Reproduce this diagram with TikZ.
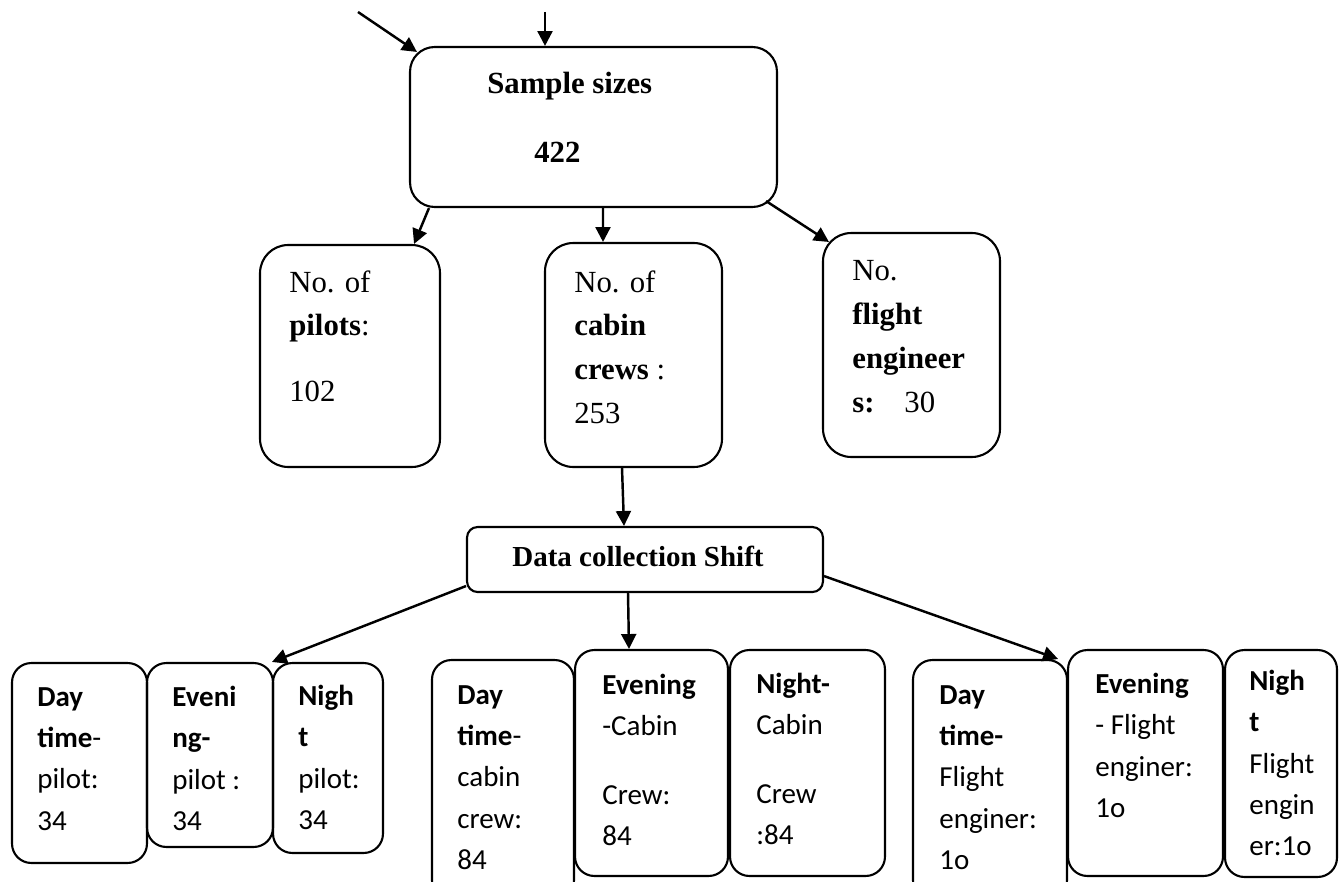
\documentclass[tikz,border=0pt]{standalone}
\usepackage{fontspec}
\setmainfont{Liberation Serif}
\newfontfamily\calibri{Carlito}
\usetikzlibrary{arrows.meta}

\begin{document}
\begin{tikzpicture}[
    x=0.02cm, y=-0.02cm,
    >={Triangle[length=8.5pt,width=8.5pt]},
    arr/.style={->, line width=1.4pt},
    box/.style={draw, line width=1.2pt, rounded corners=11pt, inner sep=0pt},
    bigbox/.style={box, rounded corners=16pt},
    uppertxt/.style={font=\fontsize{17.5}{25}\selectfont, align=left, inner sep=0pt, anchor=north west},
    lowtxt/.style={font=\calibri\fontsize{16.5}{23.5}\selectfont, align=left, inner sep=0pt, anchor=north west},
    hd/.style={font=\fontsize{17.5}{25}\selectfont\bfseries, inner sep=0pt, anchor=base west}
  ]
  \clip (0,0) rectangle (1342,882);

  % sample
  \node[bigbox, rounded corners=14pt, minimum width=7.34cm, minimum height=3.2cm] (ss) at (593.5,127) {};
  \node[hd] (sst) at (487,93) {Sample sizes};
  \node[hd] (ssn) at (534,162) {422};
  \coordinate (in1) at (358,12);
  \coordinate (in2) at (545,12);
  \draw[arr] (in1) -- ([shift={(8,6)}]ss.north west);
  \draw[arr] (in2) -- (in2 |- ss.north);

  % crew groups
  \node[bigbox, minimum width=3.6cm, minimum height=4.44cm] (pil) at (350,356) {};
  \node[bigbox, minimum width=3.54cm, minimum height=4.48cm] (cab) at (633.5,355) {};
  \node[bigbox, minimum width=3.54cm, minimum height=4.48cm] (flt) at (911.5,345) {};
  \node[uppertxt] (pilt) at (289,270) {No. of\\\textbf{pilots}:\\[12.5pt]102};
  \node[uppertxt] (cabt) at (574,270) {No. of\\\textbf{cabin}\\\textbf{crews} :\\253};
  \node[uppertxt] (fltt) at (852,260) {No.\\\textbf{flight}\\\textbf{engineer}\\\textbf{s:}\hspace{17pt}30};
  \draw[arr] ([shift={(20,0)}]ss.south west) -- ([shift={(-27,0)}]pil.north east);
  \draw[arr] ([shift={(9.5,0)}]ss.south) -- ([shift={(-30.5,0)}]cab.north);
  \draw[arr] ([shift={(-12,-7)}]ss.south east) -- ([shift={(7,10)}]flt.north west);

  % shift
  \node[box, rounded corners=6pt, minimum width=7.12cm, minimum height=1.3cm] (dcs) at (645,559.5) {};
  \node[hd, font=\fontsize{16.5}{20}\selectfont\bfseries] (dcst) at (512,566) {Data collection Shift};
  \draw[arr] ([shift={(-11.5,0)}]cab.south) -- ([shift={(-21,0)}]dcs.north);

  % pilots by shift
  \node[box, minimum width=2.7cm, minimum height=4.0cm] (dp) at (79.5,763) {};
  \node[box, minimum width=2.52cm, minimum height=3.68cm] (ep) at (210,755) {};
  \node[box, minimum width=2.2cm, minimum height=3.8cm] (np) at (328,758) {};
  \node[lowtxt] (dpt) at (37,687) {\textbf{Day}\\\textbf{time}-\\pilot:\\34};
  \node[lowtxt] (ept) at (172,686) {\textbf{Eveni}\\\textbf{ng-}\\pilot :\\34};
  \node[lowtxt] (npt) at (298,685) {\textbf{Nigh}\\\textbf{t}\\pilot:\\34};

  % cabin crew by shift
  \node[box, minimum width=2.84cm, minimum height=4.8cm] (dc) at (503,780) {};
  \node[box, minimum width=3.06cm, minimum height=4.52cm] (ec) at (651.5,763) {};
  \node[box, minimum width=3.1cm, minimum height=4.52cm] (nc) at (807.5,763) {};
  \node[lowtxt] (dct) at (457,685) {\textbf{Day}\\\textbf{time}-\\cabin\\crew:\\84};
  \node[lowtxt] (ect) at (602,674) {\textbf{Evening}\\-Cabin\\[15.5pt]Crew:\\84};
  \node[lowtxt] (nct) at (756,673) {\textbf{Night-}\\Cabin\\[15.5pt]Crew\\:84};

  % flight engineers by shift
  \node[box, minimum width=3.08cm, minimum height=4.8cm] (df) at (990,780) {};
  \node[box, minimum width=3.1cm, minimum height=4.52cm] (ef) at (1145.5,763) {};
  \node[box, minimum width=2.24cm, minimum height=4.54cm] (nf) at (1281,763.5) {};
  \node[lowtxt] (dft) at (939,685) {\textbf{Day}\\\textbf{time-}\\Flight\\enginer:\\1o};
  \node[lowtxt] (eft) at (1095,673) {\textbf{Evening}\\- Flight\\enginer:\\1o};
  \node[lowtxt] (nft) at (1249,670) {\textbf{Nigh}\\\textbf{t}\\Flight\\engin\\er:1o};

  \draw[arr] ([shift={(0,-7)}]dcs.south west) -- (np.north west);
  \draw[arr] ([shift={(-17,0)}]dcs.south) -- ([shift={(-22.5,0)}]ec.north);
  \draw[arr] ([shift={(0,-17)}]dcs.south east) -- ([shift={(-10,0)}]df.north east);
\end{tikzpicture}
\end{document}
